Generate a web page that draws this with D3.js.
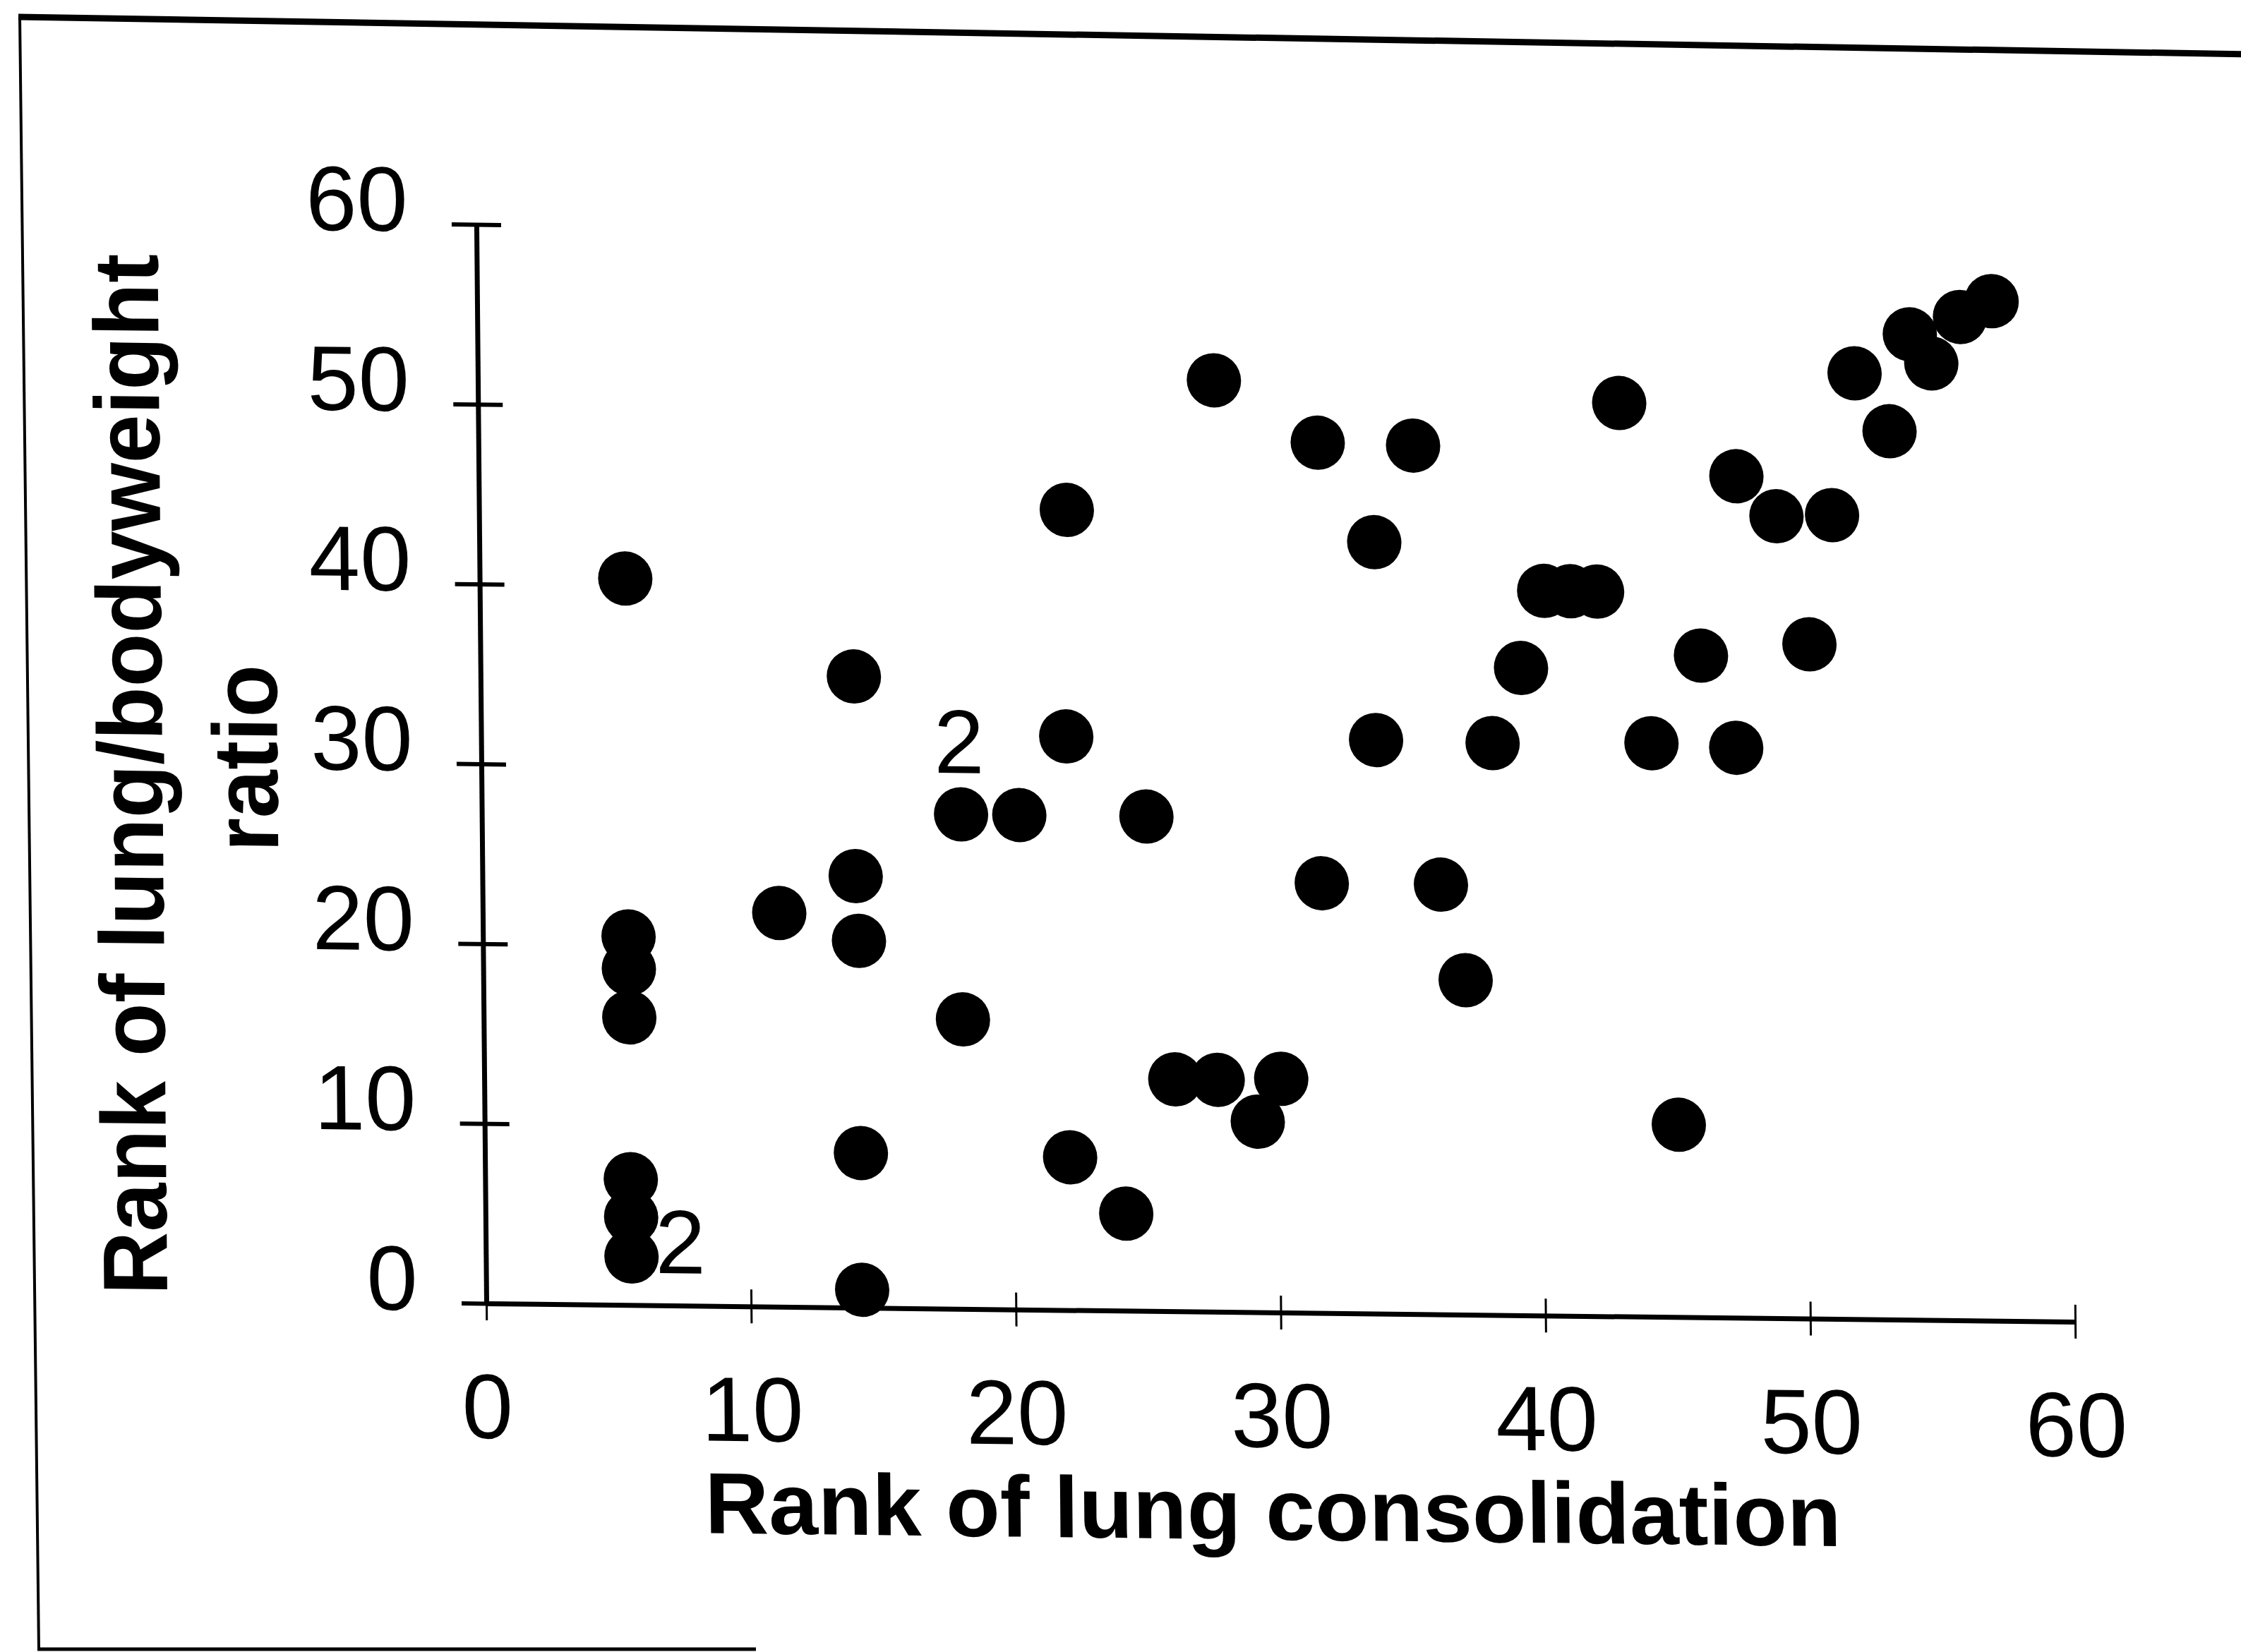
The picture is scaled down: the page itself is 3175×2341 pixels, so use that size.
<!DOCTYPE html>
<html><head><meta charset="utf-8">
<script src="https://cdn.jsdelivr.net/npm/d3@7"></script>
<style>html,body{margin:0;padding:0;background:#fff;} svg{display:block;}</style>
</head><body>
<script>
// Data (rank of lung consolidation vs rank of lung/bodyweight ratio)
const consolidationRank = [5.5, 5.5, 5.5, 5.5, 5.5, 5.5, 5.5, 11.2, 14.1, 14.1, 14.2, 14.2, 14.2,
  18.1, 20.3, 18.1, 22.2, 22.1, 22.1, 24.2, 25.1, 26.1, 27.7, 30.1, 29.2, 27.8, 31.7, 31.7,
  33.8, 33.8, 35.3, 36.2, 37.1, 38.2, 39.3, 40.2, 41.2, 42.2, 43.1, 44.2, 45.1, 46.1, 47.5,
  47.4, 49.0, 51.1, 50.2, 52.0, 53.3, 54.1, 54.9, 56.0, 57.2];
const lungRatioRank = [40.4, 20.5, 18.7, 16.0, 7.0, 4.9, 2.7, 21.9, 35.1, 24.0, 20.4, 8.6, 1.0,
  27.5, 27.5, 16.1, 44.5, 31.9, 8.5, 5.4, 27.5, 12.9, 12.9, 13.0, 10.6, 51.8, 48.4, 23.9,
  42.9, 31.9, 48.3, 23.9, 18.6, 31.8, 36.0, 40.3, 40.3, 40.3, 50.8, 31.9, 10.7, 36.8, 46.8,
  31.7, 44.6, 44.7, 37.5, 52.6, 49.4, 54.8, 53.2, 55.8, 56.7];
// "2" markers for coincident points
const countText = ["2", "2"];
const countX = [17.1, 6.4];
const countY = [29.8, 1.8];

const xTicks = [0, 10, 20, 30, 40, 50, 60];
const yTicks = [0, 10, 20, 30, 40, 50, 60];
const xTitle = "Rank of lung consolidation";
const yTitleLines = ["Rank of lung/bodyweight", "ratio"];

const W = 3175, H = 2341;
const FONT = "'Liberation Sans', Arial, Helvetica, sans-serif";
const svg = d3.select("body").append("svg").attr("width", W).attr("height", H);
svg.append("rect").attr("width", W).attr("height", H).attr("fill", "#fff");

// outer frame (scanned page border)
svg.append("line").attr("x1", 26).attr("y1", 24).attr("x2", 3190).attr("y2", 77)
  .attr("stroke", "#000").attr("stroke-width", 9);
svg.append("line").attr("x1", 28).attr("y1", 22).attr("x2", 55).attr("y2", 2338)
  .attr("stroke", "#000").attr("stroke-width", 4);
svg.append("line").attr("x1", 53).attr("y1", 2337).attr("x2", 1071).attr("y2", 2337)
  .attr("stroke", "#000").attr("stroke-width", 5);

const x = d3.scaleLinear().domain([0, 60]).range([689, 2940]);
const y = d3.scaleLinear().domain([0, 60]).range([1847, 318]);

// slight skew of the scanned figure
const kx = 0.0092, ky = 0.0115;
const g = svg.append("g")
  .attr("transform", `matrix(1,${ky},${kx},1,${-kx * 1847},${-ky * 689})`);

// points
g.append("g").selectAll("circle")
  .data(d3.zip(consolidationRank, lungRatioRank))
  .join("circle")
  .attr("cx", d => x(d[0]))
  .attr("cy", d => y(d[1]))
  .attr("r", 38.5)
  .attr("fill", "#000");

// y axis
const yAxis = g.append("g")
  .attr("transform", `translate(${x(0)},0)`)
  .call(d3.axisLeft(y).tickValues(yTicks).tickSizeOuter(0).tickFormat(d3.format("d")));
yAxis.attr("font-size", 130).attr("font-family", FONT);
yAxis.select(".domain").attr("stroke", "#000").attr("stroke-width", 7);
yAxis.selectAll(".tick line").attr("x1", -35).attr("x2", 35).attr("stroke", "#000").attr("stroke-width", 6);
yAxis.selectAll(".tick text").attr("x", -97).attr("dy", null).attr("y", 10).attr("fill", "#000");

// x axis
const xAxis = g.append("g")
  .attr("transform", `translate(0,${y(0)})`)
  .call(d3.axisBottom(x).tickValues(xTicks).tickSizeOuter(0).tickFormat(d3.format("d")));
xAxis.attr("font-size", 130).attr("font-family", FONT);
xAxis.select(".domain").attr("stroke", "#000").attr("stroke-width", 7);
xAxis.selectAll(".tick line").attr("y1", -24).attr("y2", 24).attr("stroke", "#000").attr("stroke-width", 3);
xAxis.selectAll(".tick text").attr("y", 191).attr("dy", null).attr("fill", "#000");

// count labels
g.append("g").selectAll("text")
  .data(d3.range(countText.length))
  .join("text")
  .attr("x", i => x(countX[i]))
  .attr("y", i => y(countY[i]))
  .attr("font-family", FONT)
  .attr("font-size", 128)
  .attr("fill", "#000")
  .text(i => countText[i]);

// x title
g.append("text")
  .attr("x", 1801).attr("y", 2169)
  .attr("text-anchor", "middle")
  .attr("font-family", FONT).attr("font-weight", "bold").attr("font-size", 123)
  .attr("textLength", 1610).attr("lengthAdjust", "spacingAndGlyphs")
  .attr("fill", "#000")
  .text(xTitle);

// y title
g.append("text")
  .attr("transform", "translate(237,1103) rotate(-90)")
  .attr("text-anchor", "middle")
  .attr("font-family", FONT).attr("font-weight", "bold").attr("font-size", 130)
  .attr("textLength", 1475).attr("lengthAdjust", "spacingAndGlyphs")
  .attr("fill", "#000")
  .text(yTitleLines[0]);
g.append("text")
  .attr("transform", "translate(400,1078) rotate(-90)")
  .attr("text-anchor", "middle")
  .attr("font-family", FONT).attr("font-weight", "bold").attr("font-size", 130)
  .attr("textLength", 265).attr("lengthAdjust", "spacingAndGlyphs")
  .attr("fill", "#000")
  .text(yTitleLines[1]);
</script>
</body></html>
